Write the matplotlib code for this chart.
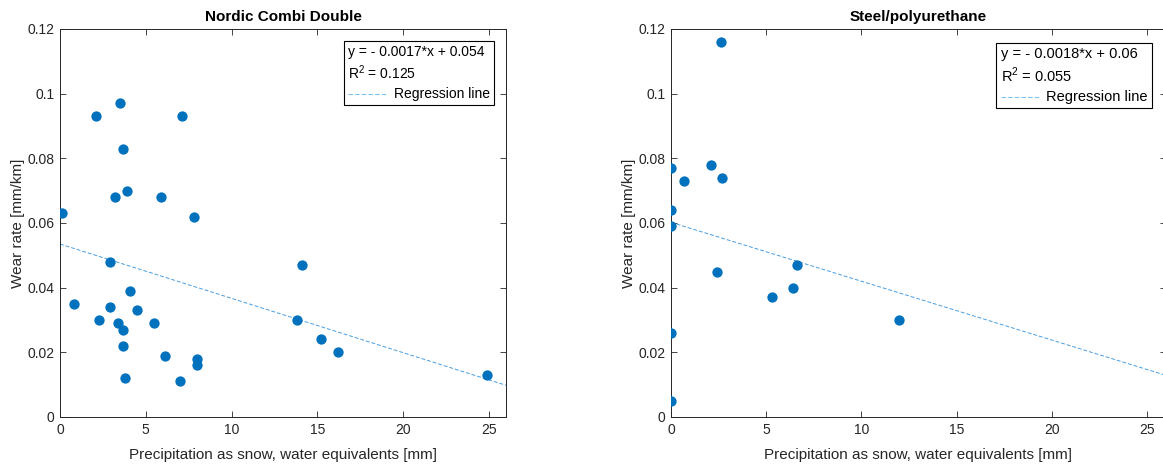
import numpy as np
import matplotlib
matplotlib.use('Agg')
import matplotlib.pyplot as plt
from matplotlib.lines import Line2D
from matplotlib.offsetbox import AnchoredOffsetbox, VPacker, HPacker, TextArea, DrawingArea

plt.rcParams['font.family'] = ['Liberation Sans', 'DejaVu Sans']
plt.rcParams['mathtext.fontset'] = 'custom'
plt.rcParams['mathtext.rm'] = 'Liberation Sans'

# Nordic Combi Double
ncd_x = [2.1, 3.5, 7.1, 3.7, 3.2, 3.9, 5.9, 7.8, 0.1,
         2.9, 14.1, 0.8, 2.9, 4.1, 4.5, 2.3, 3.4, 3.7, 3.7,
         5.5, 6.1, 8.0, 8.0, 7.0, 3.8, 13.8, 15.2, 16.2, 24.9]
ncd_y = [0.093, 0.097, 0.093, 0.083, 0.068, 0.070, 0.068, 0.062, 0.063,
         0.048, 0.047, 0.035, 0.034, 0.039, 0.033, 0.030, 0.029, 0.027, 0.022,
         0.029, 0.019, 0.018, 0.016, 0.011, 0.012, 0.030, 0.024, 0.020, 0.013]

# Steel/polyurethane
sp_x = [2.6, 0.0, 0.7, 2.1, 2.7, 0.0, 0.0, 2.4, 6.6, 5.3, 6.4, 12.0, 0.0, 0.0]
sp_y = [0.116, 0.077, 0.073, 0.078, 0.074, 0.064, 0.059, 0.045, 0.047,
        0.037, 0.040, 0.030, 0.026, 0.005]

titles = ['Nordic Combi Double', 'Steel/polyurethane']
slopes = [-0.00168, -0.00182]
intercepts = [0.0535, 0.0602]
eq_labels = ['y = - 0.0017*x + 0.054', 'y = - 0.0018*x + 0.06']
r2_labels = ['R$^2$ = 0.125', 'R$^2$ = 0.055']

dot_color = '#0072BD'
reg_color = '#4a9ee0'
leg_color = '#7cc3f0'
txt_color = '#262626'

fig = plt.figure(figsize=(11.63, 4.66), dpi=100)
ax1 = fig.add_axes([60 / 1163, 1 - 417 / 466, 446 / 1163, 388 / 466])
ax2 = fig.add_axes([671 / 1163, 1 - 417 / 466, 495 / 1163, 388 / 466])

datasets = [(ncd_x, ncd_y), (sp_x, sp_y)]
leg_sizes = [10, 10.5]
leg_pads = [0.85, 1.0]
for i, ax in enumerate([ax1, ax2]):
    xs, ys = datasets[i]
    ax.scatter(xs, ys, s=55, color=dot_color, zorder=3, linewidths=0)
    xl = np.array([0, 26])
    ax.plot(xl, slopes[i] * xl + intercepts[i], ls=(0, (4, 2)), lw=0.7,
            color=reg_color, zorder=2)
    ax.set_xlim(0, 26)
    ax.set_ylim(0, 0.12)
    ax.set_xticks([0, 5, 10, 15, 20, 25])
    ax.set_yticks([0, 0.02, 0.04, 0.06, 0.08, 0.1, 0.12])
    ax.set_yticklabels(['0', '0.02', '0.04', '0.06', '0.08', '0.1', '0.12'])
    ax.tick_params(direction='in', top=True, right=True, length=4, width=0.6,
                   labelsize=10, colors=txt_color, pad=4)
    for sp in ax.spines.values():
        sp.set_color(txt_color)
        sp.set_linewidth(0.7)
    ax.set_title(titles[i], fontsize=11, fontweight='bold', pad=6)
    ax.set_xlabel('Precipitation as snow, water equivalents [mm]', fontsize=11,
                  color=txt_color, labelpad=8)
    ax.set_ylabel('Wear rate [mm/km]', fontsize=11, color=txt_color, labelpad=1.5)

    # legend box in MATLAB style
    fs = leg_sizes[i]
    t1 = TextArea(eq_labels[i], textprops=dict(size=fs, color='black'))
    t2 = TextArea(r2_labels[i], textprops=dict(size=fs, color='black'))
    da = DrawingArea(29, 8, 0, 0)
    da.add_artist(Line2D([0, 29], [4, 4], ls=(0, (4, 2)), lw=0.8, color=leg_color))
    t3 = TextArea('Regression line', textprops=dict(size=fs, color='black'))
    row = HPacker(children=[da, t3], align='center', pad=0, sep=4)
    box = VPacker(children=[t1, t2, row], align='left', pad=0, sep=3.5)
    anc = AnchoredOffsetbox(loc='upper right', child=box, pad=0.3,
                            borderpad=leg_pads[i], frameon=True)
    anc.patch.set_boxstyle('square', pad=0)
    anc.patch.set_edgecolor('black')
    anc.patch.set_linewidth(0.8)
    ax.add_artist(anc)

plt.savefig('out.png', dpi=100)
